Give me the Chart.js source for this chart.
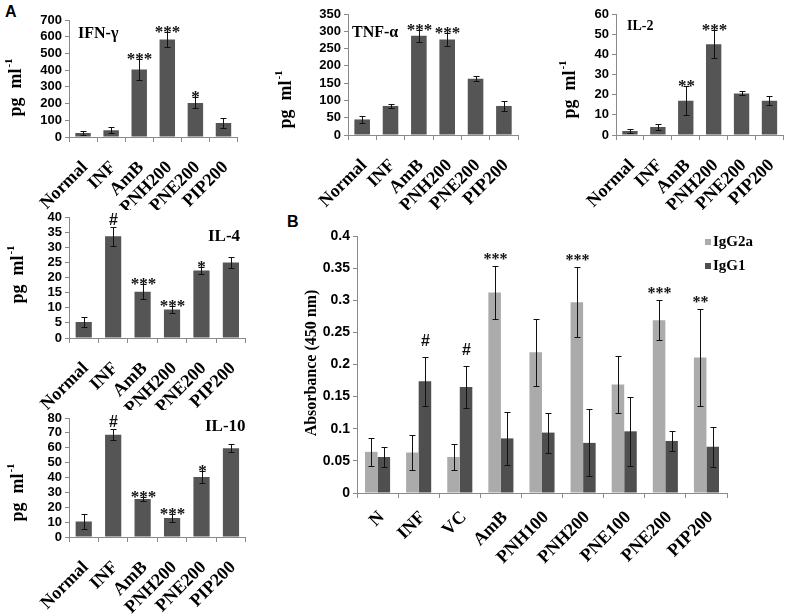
<!DOCTYPE html>
<html>
<head>
<meta charset="utf-8">
<script src="https://cdn.jsdelivr.net/npm/chart.js@4.4.0/dist/chart.umd.min.js"></script>
<style>
  body { margin: 0; background: #fff; }
  #fig { position: relative; width: 800px; height: 614px; overflow: hidden; }
  .panel { position: absolute; }
  .tag { position: absolute; font: bold 16px 'Liberation Sans', Arial, sans-serif; }
</style>
</head>
<body>
<div id="fig">
  <div class="tag" style="left:5px;top:3px">A</div>
  <div class="tag" style="left:287px;top:213px">B</div>
</div>
<script>
// ---- data (panel A: cytokines) ----
const cytoLabels = ['Normal', 'INF', 'AmB', 'PNH200', 'PNE200', 'PIP200'];

const ifnMean = [24, 40, 404, 584, 204, 84];
const ifnErr  = [13, 18, 60, 45, 33, 31];
const ifnSig  = ['', '', '***', '***', '*', ''];

const tnfMean = [45, 84, 287, 276, 163, 84];
const tnfErr  = [9, 7, 18, 18, 8, 15];
const tnfSig  = ['', '', '***', '***', '', ''];

const il2Mean = [2, 4, 17, 45, 20.6, 17];
const il2Err  = [0.8, 1.4, 7.2, 6.9, 1, 2.3];
const il2Sig  = ['', '', '**', '***', '', ''];

const il4Mean = [5.3, 33.6, 15.3, 9.4, 22.3, 25];
const il4Err  = [1.7, 3.2, 2.4, 1.3, 1.1, 1.7];
const il4Sig  = ['', '#', '***', '***', '*', ''];

const il10Mean = [10.5, 68.8, 25.6, 12.8, 40.4, 59.6];
const il10Err  = [5, 3.6, 1.5, 2.8, 4.1, 2.7];
const il10Sig  = ['', '#', '***', '***', '*', ''];

// ---- data (panel B: antibodies) ----
const abLabels = ['N', 'INF', 'VC', 'AmB', 'PNH100', 'PNH200', 'PNE100', 'PNE200', 'PIP200'];
const igg2aMean = [0.064, 0.063, 0.056, 0.312, 0.219, 0.297, 0.169, 0.269, 0.211];
const igg2aErr  = [0.022, 0.027, 0.02, 0.041, 0.052, 0.054, 0.045, 0.031, 0.075];
const igg2aSig  = ['', '', '', '***', '', '***', '', '***', '**'];
const igg1Mean  = [0.056, 0.174, 0.165, 0.085, 0.094, 0.078, 0.096, 0.081, 0.072];
const igg1Err   = [0.015, 0.038, 0.032, 0.041, 0.031, 0.052, 0.054, 0.016, 0.031];
const igg1Sig   = ['', '#', '#', '', '', '', '', '', ''];

const SERIF = "'Liberation Serif', 'Times New Roman', serif";
const SANS = "'Liberation Sans', Arial, sans-serif";

// error bars, significance marks, panel titles, y titles, legend
const extrasPlugin = {
  id: 'extras',
  afterDatasetsDraw(chart, args, o) {
    const ctx = chart.ctx, ys = chart.scales.y;
    const ox = o.box.left, oy = o.box.top;
    ctx.save();
    chart.data.datasets.forEach((ds, di) => {
      const meta = chart.getDatasetMeta(di);
      meta.data.forEach((bar, i) => {
        const v = ds.data[i], e = ds.errors[i];
        const x = Math.round(bar.x) + 0.5;
        const top = Math.round(ys.getPixelForValue(v + e)) + 0.5;
        const bot = Math.round(ys.getPixelForValue(v - e)) + 0.5;
        ctx.strokeStyle = '#111';
        ctx.lineWidth = 1;
        ctx.beginPath();
        ctx.moveTo(x, top); ctx.lineTo(x, bot);
        ctx.moveTo(x - o.cap, top); ctx.lineTo(x + o.cap, top);
        ctx.moveTo(x - o.cap, bot); ctx.lineTo(x + o.cap, bot);
        ctx.stroke();
        const s = ds.sig[i];
        if (!s) return;
        ctx.fillStyle = '#111';
        ctx.textAlign = 'center';
        ctx.textBaseline = 'alphabetic';
        if (s[0] === '#') {
          ctx.font = 'bold ' + o.hashSize + 'px ' + SANS;
          ctx.fillText(s, x, top - o.hashGap + 0.36 * o.hashSize);
        } else {
          ctx.font = 'bold ' + o.starSize + 'px ' + SERIF;
          ctx.fillText(s, x, top - o.starGap + 0.55 * o.starSize);
        }
      });
    });

    ctx.fillStyle = '#000';
    if (o.title) {
      ctx.font = 'bold ' + o.titleSize + 'px ' + SERIF;
      ctx.textAlign = 'left';
      ctx.textBaseline = 'alphabetic';
      ctx.fillText(o.title, o.titleX - ox, o.titleY - oy);
    }

    // rotated y title with optional superscript
    ctx.save();
    ctx.translate(o.yTitleX - ox, o.yTitleY - oy);
    ctx.rotate(-Math.PI / 2);
    ctx.font = 'bold ' + o.yTitleSize + 'px ' + SERIF;
    const mainW = ctx.measureText(o.yTitle).width;
    ctx.font = 'bold ' + Math.round(o.yTitleSize * 0.62) + 'px ' + SERIF;
    const supW = o.yTitleSup ? ctx.measureText(o.yTitleSup).width : 0;
    const x0 = -(mainW + supW) / 2;
    ctx.textAlign = 'left';
    ctx.textBaseline = 'middle';
    ctx.font = 'bold ' + o.yTitleSize + 'px ' + SERIF;
    ctx.fillText(o.yTitle, x0, 0);
    if (o.yTitleSup) {
      ctx.font = 'bold ' + Math.round(o.yTitleSize * 0.62) + 'px ' + SERIF;
      ctx.fillText(o.yTitleSup, x0 + mainW + 1, -o.yTitleSize * 0.38);
    }
    ctx.restore();

    if (o.legend) {
      const L = o.legend;
      ctx.font = 'bold ' + L.size + 'px ' + SERIF;
      ctx.textAlign = 'left';
      ctx.textBaseline = 'middle';
      chart.data.datasets.forEach((ds, di) => {
        const cy = L.y - oy + di * L.dy;
        ctx.fillStyle = ds.backgroundColor;
        ctx.fillRect(L.x - ox, cy - 3, 6, 6);
        ctx.fillStyle = '#000';
        ctx.fillText(ds.label, L.x - ox + 8, cy);
      });
    }
    ctx.restore();
  }
};

function makePanel(box, area, labels, datasets, yMax, yStep, extra) {
  const div = document.createElement('div');
  div.className = 'panel';
  div.style.left = box.left + 'px';
  div.style.top = box.top + 'px';
  div.style.width = box.width + 'px';
  div.style.height = box.height + 'px';
  const canvas = document.createElement('canvas');
  div.appendChild(canvas);
  document.getElementById('fig').appendChild(div);

  extra.box = box;
  return new Chart(canvas, {
    type: 'bar',
    data: { labels: labels, datasets: datasets },
    options: {
      responsive: true,
      maintainAspectRatio: false,
      animation: false,
      layout: {
        padding: { left: 0, top: area.top - box.top, right: box.left + box.width - area.right, bottom: 0 }
      },
      plugins: {
        legend: { display: false },
        tooltip: { enabled: false },
        extras: extra
      },
      scales: {
        x: {
          grid: { display: true, drawOnChartArea: false, color: '#8a8a8a', tickLength: 5 },
          border: { color: '#8a8a8a' },
          ticks: {
            minRotation: 45, maxRotation: 45, autoSkip: false, color: '#000',
            padding: extra.xPad, labelOffset: extra.xShift,
            font: { family: SERIF, weight: 'bold', size: extra.xFont }
          },
          afterFit: s => { s.height = box.top + box.height - area.bottom; }
        },
        y: {
          min: 0, max: yMax,
          grid: { display: true, drawOnChartArea: false, color: '#8a8a8a', tickLength: 4 },
          border: { color: '#8a8a8a' },
          ticks: {
            stepSize: yStep, autoSkip: false, color: '#000', padding: 3,
            font: { family: SANS, weight: 'bold', size: extra.yFont },
            callback: v => String(+v.toFixed(2))
          },
          afterFit: s => { s.width = area.left - box.left; }
        }
      }
    },
    plugins: [extrasPlugin]
  });
}

function cytoSet(mean, err, sig) {
  return [{
    label: 'pg ml-1', data: mean, errors: err, sig: sig,
    backgroundColor: '#555555', borderWidth: 0,
    barPercentage: 0.55, categoryPercentage: 1
  }];
}

const aStyle = { cap: 3, starSize: 17, starGap: 5, hashSize: 16, hashGap: 8, xFont: 18, yFont: 13, xPad: 15, xShift: 2,
                 yTitle: 'pg  ml', yTitleSup: '-1', yTitleSize: 18 };

makePanel({ left: 0, top: 0, width: 255, height: 210 }, { left: 69, right: 240, top: 20, bottom: 137 },
  cytoLabels, cytoSet(ifnMean, ifnErr, ifnSig), 700, 100,
  Object.assign({}, aStyle, { title: 'IFN-γ', titleSize: 16, titleX: 78, titleY: 38, yTitleX: 16, yTitleY: 88 }));

makePanel({ left: 275, top: 0, width: 260, height: 210 }, { left: 348, right: 525, top: 14, bottom: 135 },
  cytoLabels, cytoSet(tnfMean, tnfErr, tnfSig), 350, 50,
  Object.assign({}, aStyle, { title: 'TNF-α', titleSize: 16, titleX: 352, titleY: 37, yTitleX: 286, yTitleY: 100 }));

makePanel({ left: 545, top: 0, width: 255, height: 210 }, { left: 616, right: 797, top: 14, bottom: 135 },
  cytoLabels, cytoSet(il2Mean, il2Err, il2Sig), 60, 10,
  Object.assign({}, aStyle, { title: 'IL-2', titleSize: 14, titleX: 627, titleY: 30, yTitleX: 570, yTitleY: 90 }));

makePanel({ left: 0, top: 205, width: 262, height: 205 }, { left: 69, right: 252, top: 217, bottom: 338 },
  cytoLabels, cytoSet(il4Mean, il4Err, il4Sig), 40, 5,
  Object.assign({}, aStyle, { title: 'IL-4', titleSize: 17, titleX: 208, titleY: 241, yTitleX: 18, yTitleY: 275 }));

makePanel({ left: 0, top: 405, width: 262, height: 209 }, { left: 69, right: 253, top: 418, bottom: 537 },
  cytoLabels, cytoSet(il10Mean, il10Err, il10Sig), 80, 10,
  Object.assign({}, aStyle, { title: 'IL-10', titleSize: 17, titleX: 205, titleY: 431, yTitleX: 18, yTitleY: 493 }));

makePanel({ left: 285, top: 215, width: 515, height: 399 }, { left: 357, right: 727, top: 236, bottom: 493 },
  abLabels, [
    { label: 'IgG2a', data: igg2aMean, errors: igg2aErr, sig: igg2aSig, backgroundColor: '#ababab',
      borderWidth: 0, barPercentage: 1, categoryPercentage: 0.61 },
    { label: 'IgG1', data: igg1Mean, errors: igg1Err, sig: igg1Sig, backgroundColor: '#4f4f4f',
      borderWidth: 0, barPercentage: 1, categoryPercentage: 0.61 }
  ], 0.4, 0.05,
  { cap: 3, starSize: 16, starGap: 11, hashSize: 16, hashGap: 17, xFont: 18, yFont: 14, xPad: 9, xShift: 4,
    yTitle: 'Absorbance (450 nm)', yTitleSup: '', yTitleSize: 16, yTitleX: 312, yTitleY: 363,
    legend: { x: 705, y: 242, dy: 24, size: 15 } });
</script>
</body>
</html>
